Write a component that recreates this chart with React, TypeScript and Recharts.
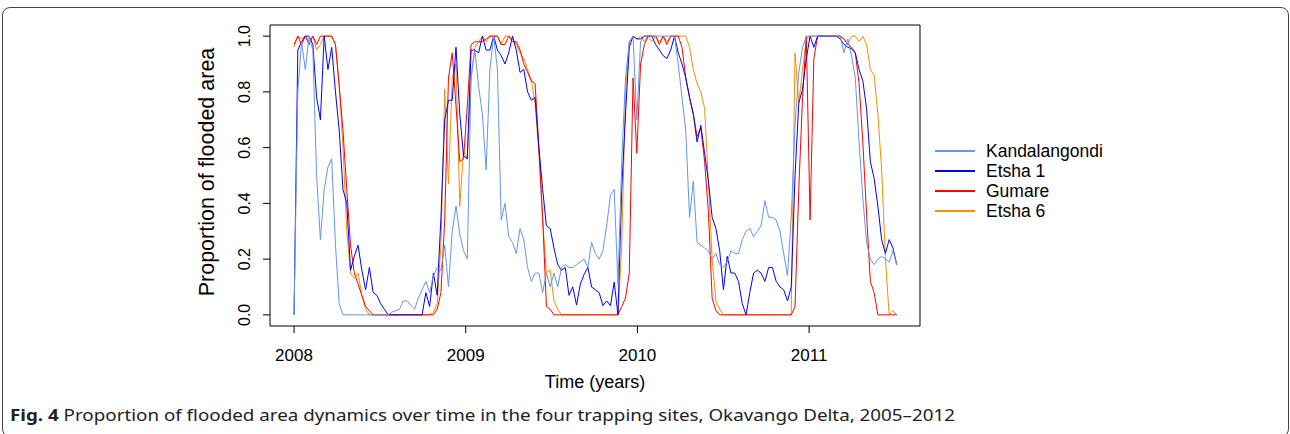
import React from 'react';
import { LineChart, Line, XAxis, YAxis, ReferenceArea } from 'recharts';

// sampling grid: roughly one composite every 8 days from Jan 2008
const T0 = 2008;
const STEP = 0.02194;

const kandalangondi = [
  0, 0.8, 0.98, 0.88, 1, 0.95, 0.5, 0.27, 0.45, 0.53,
  0.56, 0.25, 0.04, 0, 0, 0, 0, 0, 0, 0,
  0, 0, 0, 0, 0, 0, 0.01, 0.015, 0.02, 0.05,
  0.05, 0.035, 0.02, 0.06, 0.09, 0.12, 0.08, 0.14, 0.17, 0.16,
  0.25, 0.1, 0.3, 0.39, 0.29, 0.23, 0.2, 0.85, 0.95, 0.82,
  0.72, 0.52, 0.88, 1, 0.88, 0.34, 0.4, 0.28, 0.26, 0.22,
  0.31, 0.27, 0.17, 0.12, 0.15, 0.15, 0.08, 0.15, 0.1, 0.15,
  0.1, 0.17, 0.18, 0.17, 0.17, 0.18, 0.19, 0.2, 0.17, 0.26,
  0.22, 0.2, 0.23, 0.32, 0.43, 0.45, 0.11, 0.55, 0.85, 0.98,
  1, 0.7, 0.98, 1, 1, 1, 1, 1, 1, 1,
  1, 1, 0.9, 0.78, 0.66, 0.35, 0.48, 0.26, 0.25, 0.24,
  0.23, 0.2, 0.22, 0.18, 0.17, 0.19, 0.23, 0.22, 0.22, 0.27,
  0.3, 0.31, 0.28, 0.3, 0.32, 0.41, 0.35, 0.35, 0.34, 0.3,
  0.22, 0.14, 0.35, 0.68, 0.87, 0.96, 1, 1, 1, 1,
  1, 1, 1, 1, 1, 1, 0.94, 0.99, 0.93, 0.85,
  0.62, 0.42, 0.26, 0.2, 0.18, 0.2, 0.21, 0.2, 0.19, 0.23,
  0.18,
];

const etsha1 = [
  0, 0.95, 0.98, 1, 1, 0.97, 0.78, 0.7, 1, 0.88,
  0.96, 0.8, 0.66, 0.45, 0.4, 0.16, 0.21, 0.25, 0.16, 0.09,
  0.17, 0.08, 0.07, 0.04, 0.02, 0, 0, 0, 0, 0,
  0, 0, 0, 0, 0, 0.08, 0.03, 0.15, 0.07, 0.35,
  0.7, 0.77, 0.77, 0.96, 0.72, 0.57, 0.56, 0.95, 0.95, 0.94,
  1, 0.95, 0.95, 1, 0.95, 0.93, 0.9, 0.94, 1, 0.95,
  0.87, 0.88, 0.8, 0.77, 0.78, 0.6, 0.45, 0.32, 0.31, 0.24,
  0.18, 0.16, 0.17, 0.07, 0.1, 0.035, 0.11, 0.145, 0.17, 0.1,
  0.09, 0.08, 0.033, 0.05, 0.033, 0.117, 0, 0.45, 0.72, 0.96,
  1, 0.99, 0.99, 1, 1, 1, 0.97, 0.95, 0.93, 0.92,
  0.95, 1, 0.94, 0.9, 0.85, 0.78, 0.72, 0.62, 0.68, 0.58,
  0.48, 0.35, 0.31, 0.23, 0.09, 0.21, 0.15, 0.15, 0.12, 0.04,
  0, 0.08, 0.15, 0.16, 0.15, 0.12, 0.17, 0.17, 0.12, 0.1,
  0.09, 0.05, 0.1, 0.5, 0.76, 0.81, 0.92, 1, 0.96, 1,
  1, 1, 1, 1, 1, 0.99, 0.97, 0.96, 0.955, 0.94,
  0.88, 0.84, 0.74, 0.55, 0.49, 0.39, 0.27, 0.22, 0.27, 0.24,
  0.18,
];

const gumare = [
  0.97, 1, 0.97, 1, 0.97, 1, 0.97, 1, 1, 1,
  1, 0.97, 0.82, 0.66, 0.45, 0.25, 0.15, 0.11, 0.07, 0.03,
  0.015, 0, 0, 0, 0, 0, 0, 0, 0, 0,
  0, 0, 0, 0, 0, 0, 0, 0, 0.02, 0.08,
  0.34, 0.85, 0.94, 0.75, 0.55, 0.56, 0.75, 0.97, 0.98, 0.98,
  0.98, 0.99, 1, 1, 1, 0.97, 0.97, 1, 0.98, 0.98,
  0.95, 0.9, 0.87, 0.84, 0.83, 0.6, 0.35, 0.03, 0.02, 0,
  0, 0, 0, 0, 0, 0, 0, 0, 0, 0,
  0, 0, 0, 0, 0, 0, 0, 0.03, 0.06, 0.15,
  0.85, 0.58, 0.9, 0.97, 1, 1, 1, 0.97, 1, 0.97,
  1, 1, 1, 0.96, 0.85, 0.78, 0.72, 0.64, 0.67, 0.55,
  0.37, 0.06, 0.015, 0, 0, 0, 0, 0, 0, 0,
  0, 0, 0, 0, 0, 0, 0, 0, 0, 0,
  0, 0, 0, 0.03, 0.45, 0.78, 1, 0.34, 0.92, 1,
  1, 1, 1, 1, 1, 1, 0.99, 0.97, 0.96, 0.94,
  0.83, 0.62, 0.36, 0.12, 0.08, 0, 0, 0, 0, 0,
  0,
];

const etsha6 = [
  0.96, 1, 0.99, 1, 0.98, 1, 0.95, 0.97, 1, 1,
  1, 0.97, 0.82, 0.6, 0.3, 0.15, 0.13, 0.15, 0.07, 0.02,
  0, 0, 0, 0, 0, 0, 0, 0, 0, 0,
  0, 0, 0, 0, 0, 0, 0, 0.01, 0.04, 0.25,
  0.81, 0.47, 0.85, 0.9, 0.39, 0.59, 0.56, 0.85, 0.96, 0.98,
  1, 0.98, 1, 1, 1, 0.97, 1, 1, 0.99, 0.97,
  0.94, 0.92, 0.88, 0.84, 0.76, 0.58, 0.34, 0.15, 0.16, 0.05,
  0.02, 0, 0, 0, 0, 0, 0, 0, 0, 0,
  0, 0, 0, 0, 0, 0, 0, 0.25, 0.8, 0.98,
  1, 0.99, 1, 0.98, 1, 0.98, 1, 0.98, 1, 0.98,
  1, 1, 1, 1, 1, 0.96, 0.88, 0.83, 0.8, 0.74,
  0.48, 0.2, 0.05, 0.02, 0, 0, 0, 0, 0, 0,
  0, 0, 0, 0, 0, 0, 0, 0, 0, 0,
  0, 0, 0, 0.94, 0.76, 0.88, 0.99, 1, 1, 1,
  1, 1, 1, 1, 1, 1, 0.99, 0.97, 1, 1,
  0.98, 1, 0.97, 0.88, 0.86, 0.72, 0.52, 0.2, 0, 0.015,
  0,
];

const yearTicks = [2008, 2009, 2010, 2011];
const propTicks = [0, 0.2, 0.4, 0.6, 0.8, 1];

const series = [
  { key: 'kandalangondi', name: 'Kandalangondi', color: '#6495ED', values: kandalangondi },
  { key: 'etsha1', name: 'Etsha 1', color: '#0000FF', values: etsha1 },
  { key: 'gumare', name: 'Gumare', color: '#FF0000', values: gumare },
  { key: 'etsha6', name: 'Etsha 6', color: '#FF8C00', values: etsha6 },
];

const data = kandalangondi.map((_, i) => {
  const row: Record<string, number> = { t: T0 + i * STEP };
  series.forEach((s) => {
    if (s.values[i] !== undefined) row[s.key] = s.values[i];
  });
  return row;
});

const X_DOMAIN: [number, number] = [2007.86, 2011.646];
const Y_DOMAIN: [number, number] = [-0.04, 1.04];
const FONT = '"Liberation Sans", Arial, sans-serif';

const YTick = (props: any) => {
  const { x, y, payload } = props;
  const bx = x - 11;
  return (
    <text x={bx} y={y} transform={`rotate(-90 ${bx} ${y})`} textAnchor="middle"
      fontFamily={FONT} fontSize={16} fill="#000">
      {payload.value.toFixed(1)}
    </text>
  );
};

const XTick = (props: any) => {
  const { x, y, payload } = props;
  return (
    <text x={x} y={y + 26} textAnchor="middle" fontFamily={FONT} fontSize={17} fill="#000">
      {payload.value}
    </text>
  );
};

export default function App() {
  return (
    <div style={{ position: 'absolute', left: 0, top: 0, width: 1290, height: 434, background: '#fff', overflow: 'hidden' }}>
      <div style={{
        position: 'absolute', left: 2, top: 7, width: 1287, height: 430,
        border: '1px solid #444', borderRadius: 8, boxSizing: 'border-box',
      }} />
      <LineChart width={1290} height={434} data={data}
        margin={{ top: 25, right: 370, bottom: 68, left: 200 }}>
        <XAxis dataKey="t" type="number" domain={X_DOMAIN} ticks={yearTicks} allowDataOverflow
          axisLine={false} tickSize={7} tickLine={{ stroke: '#000' }} height={40} tick={<XTick />} />
        <YAxis type="number" domain={Y_DOMAIN} ticks={propTicks} allowDataOverflow
          axisLine={false} tickSize={7} tickLine={{ stroke: '#000' }} width={70} tick={<YTick />} />
        <ReferenceArea x1={X_DOMAIN[0]} x2={X_DOMAIN[1]} y1={Y_DOMAIN[0]} y2={Y_DOMAIN[1]}
          fill="none" fillOpacity={0} stroke="#000" strokeWidth={1} ifOverflow="visible" />
        {[...series].reverse().map((s) => (
          <Line key={s.key} type="linear" dataKey={s.key} name={s.name} stroke={s.color}
            strokeWidth={1} dot={false} activeDot={false} isAnimationActive={false} />
        ))}
      </LineChart>
      <div style={{ position: 'absolute', left: 935, top: 141, fontFamily: FONT, fontSize: 17.5, color: '#000' }}>
        {series.map((s) => (
          <div key={s.key} style={{ display: 'flex', alignItems: 'center', height: 20 }}>
            <span style={{ display: 'inline-block', width: 40, height: 2, background: s.color, marginRight: 11 }} />
            <span>{s.name}</span>
          </div>
        ))}
      </div>
      <svg width={1290} height={434} style={{ position: 'absolute', left: 0, top: 0, pointerEvents: 'none' }}>
        <text x={595} y={388} textAnchor="middle" fontFamily={FONT} fontSize={18} fill="#000">Time (years)</text>
        <text x={213.5} y={172} transform="rotate(-90 213.5 172)" textAnchor="middle"
          fontFamily={FONT} fontSize={21.5} fill="#000">Proportion of flooded area</text>
        <text x={10} y={421} fontFamily='"Noto Sans", sans-serif'
          fontSize={16.5} fill="#222" textLength={945} lengthAdjust="spacingAndGlyphs">
          <tspan fontWeight="bold">Fig. 4</tspan> Proportion of flooded area dynamics over time in the four trapping sites, Okavango Delta, 2005–2012
        </text>
      </svg>
    </div>
  );
}
